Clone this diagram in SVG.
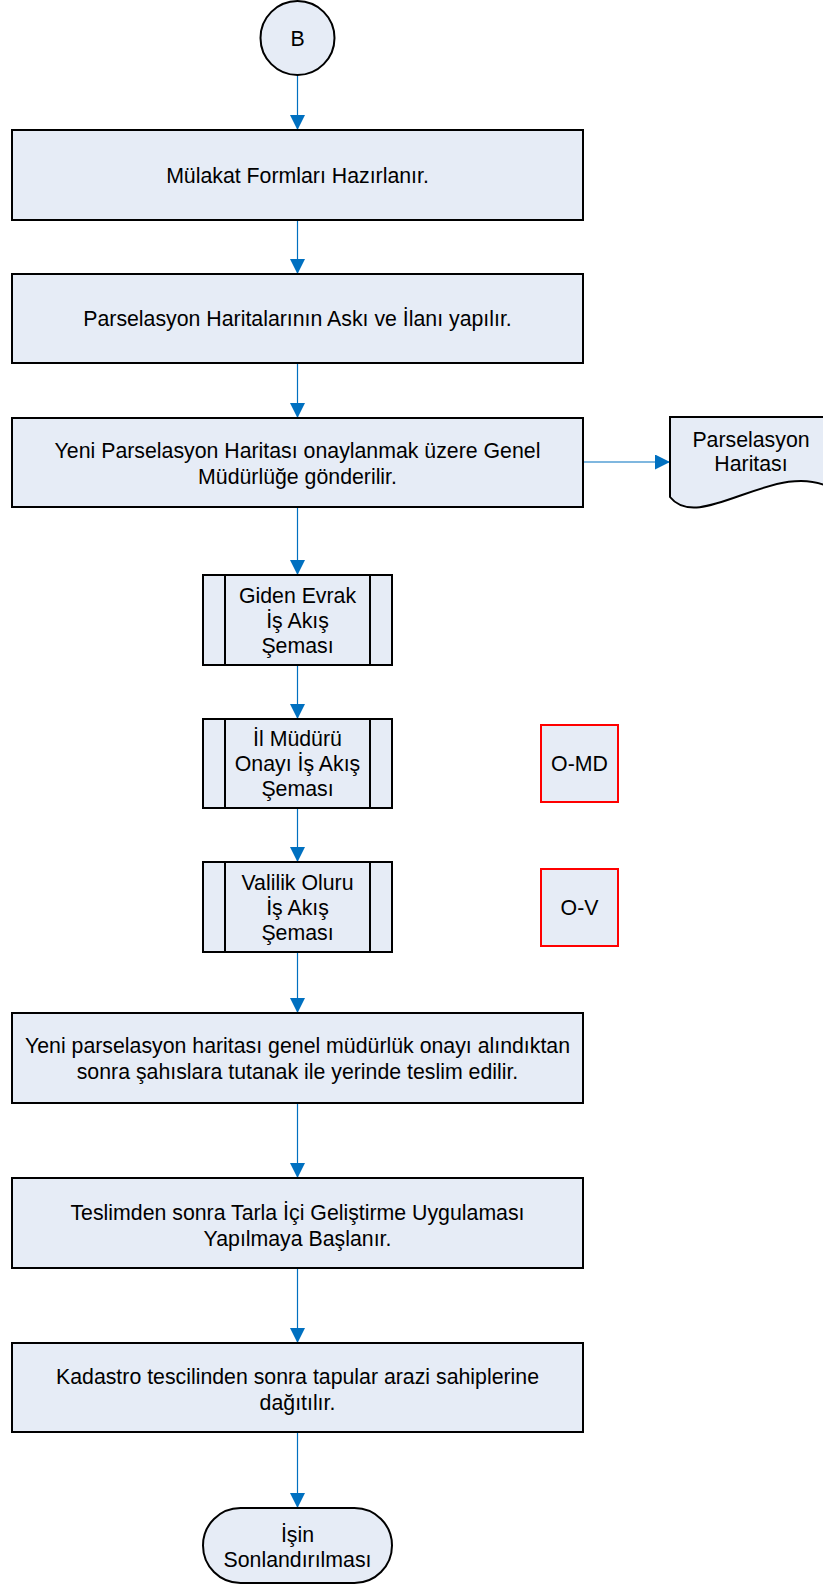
<svg xmlns="http://www.w3.org/2000/svg" width="823" height="1584" viewBox="0 0 823 1584">
<style>
.n{fill:#E6ECF6;stroke:#000;stroke-width:2}
.r{fill:#E6ECF6;stroke:#FF0000;stroke-width:2}
.c{fill:none;stroke:#0070C0;stroke-width:1.2}
.t{font-family:"Liberation Sans",Arial,sans-serif;font-size:21.3px;fill:#000;text-anchor:middle}
</style>
<defs>
<marker id="ah" markerUnits="userSpaceOnUse" markerWidth="15" markerHeight="15" viewBox="0 0 15 15" refX="15" refY="7.5" orient="auto">
<path d="M0,0 L15,7.5 L0,15 Z" fill="#0070C0"/>
</marker>
</defs>
<g id="connectors">
<line class="c" x1="297.5" y1="76" x2="297.5" y2="130" marker-end="url(#ah)"/>
<line class="c" x1="297.5" y1="220" x2="297.5" y2="274" marker-end="url(#ah)"/>
<line class="c" x1="297.5" y1="363" x2="297.5" y2="418" marker-end="url(#ah)"/>
<line class="c" x1="583" y1="462" x2="670" y2="462" marker-end="url(#ah)"/>
<line class="c" x1="297.5" y1="507" x2="297.5" y2="575" marker-end="url(#ah)"/>
<line class="c" x1="297.5" y1="665" x2="297.5" y2="719" marker-end="url(#ah)"/>
<line class="c" x1="297.5" y1="808" x2="297.5" y2="862" marker-end="url(#ah)"/>
<line class="c" x1="297.5" y1="952" x2="297.5" y2="1013" marker-end="url(#ah)"/>
<line class="c" x1="297.5" y1="1103" x2="297.5" y2="1178" marker-end="url(#ah)"/>
<line class="c" x1="297.5" y1="1268" x2="297.5" y2="1343" marker-end="url(#ah)"/>
<line class="c" x1="297.5" y1="1432" x2="297.5" y2="1508" marker-end="url(#ah)"/>
</g>
<g id="start">
<circle class="n" cx="297.5" cy="38" r="37"/>
<text class="t" x="297.5" y="45.5">B</text>
</g>
<g id="box1">
<rect class="n" x="12" y="130" width="571" height="90"/>
<text class="t" x="297.5" y="182.5">Mülakat Formları Hazırlanır.</text>
</g>
<g id="box2">
<rect class="n" x="12" y="274" width="571" height="89"/>
<text class="t" x="297.5" y="326">Parselasyon Haritalarının Askı ve İlanı yapılır.</text>
</g>
<g id="box3">
<rect class="n" x="12" y="418" width="571" height="89"/>
<text class="t" x="297.5" y="457.5">Yeni Parselasyon Haritası onaylanmak üzere Genel</text>
<text class="t" x="297.5" y="483.5">Müdürlüğe gönderilir.</text>
</g>
<g id="doc">
<path class="n" d="M670,417 H834 V490 C780,455 700,535 670,497 Z"/>
<text class="t" x="751" y="446.5">Parselasyon</text>
<text class="t" x="751" y="471">Haritası</text>
</g>
<g id="sub1">
<rect class="n" x="203" y="575" width="189" height="90"/>
<line class="n" x1="225" y1="575" x2="225" y2="665"/>
<line class="n" x1="370" y1="575" x2="370" y2="665"/>
<text class="t" x="297.5" y="602.5">Giden Evrak</text>
<text class="t" x="297.5" y="627.5">İş Akış</text>
<text class="t" x="297.5" y="652.5">Şeması</text>
</g>
<g id="sub2">
<rect class="n" x="203" y="719" width="189" height="89"/>
<line class="n" x1="225" y1="719" x2="225" y2="808"/>
<line class="n" x1="370" y1="719" x2="370" y2="808"/>
<text class="t" x="297.5" y="746">İl Müdürü</text>
<text class="t" x="297.5" y="771">Onayı İş Akış</text>
<text class="t" x="297.5" y="796">Şeması</text>
</g>
<g id="sub3">
<rect class="n" x="203" y="862" width="189" height="90"/>
<line class="n" x1="225" y1="862" x2="225" y2="952"/>
<line class="n" x1="370" y1="862" x2="370" y2="952"/>
<text class="t" x="297.5" y="889.5">Valilik Oluru</text>
<text class="t" x="297.5" y="914.5">İş Akış</text>
<text class="t" x="297.5" y="939.5">Şeması</text>
</g>
<g id="omd">
<rect class="r" x="541" y="725" width="77" height="77"/>
<text class="t" x="579.5" y="771">O-MD</text>
</g>
<g id="ov">
<rect class="r" x="541" y="869" width="77" height="77"/>
<text class="t" x="579.5" y="915">O-V</text>
</g>
<g id="box4">
<rect class="n" x="12" y="1013" width="571" height="90"/>
<text class="t" x="297.5" y="1053">Yeni parselasyon haritası genel müdürlük onayı alındıktan</text>
<text class="t" x="297.5" y="1079">sonra şahıslara tutanak ile yerinde teslim edilir.</text>
</g>
<g id="box5">
<rect class="n" x="12" y="1178" width="571" height="90"/>
<text class="t" x="297.5" y="1219.5">Teslimden sonra Tarla İçi Geliştirme Uygulaması</text>
<text class="t" x="297.5" y="1245.5">Yapılmaya Başlanır.</text>
</g>
<g id="box6">
<rect class="n" x="12" y="1343" width="571" height="89"/>
<text class="t" x="297.5" y="1383.5">Kadastro tescilinden sonra tapular arazi sahiplerine</text>
<text class="t" x="297.5" y="1409.5">dağıtılır.</text>
</g>
<g id="end">
<rect class="n" x="203" y="1508" width="189" height="75" rx="37.5" ry="37.5"/>
<text class="t" x="297.5" y="1541.5">İşin</text>
<text class="t" x="297.5" y="1567">Sonlandırılması</text>
</g>
</svg>
